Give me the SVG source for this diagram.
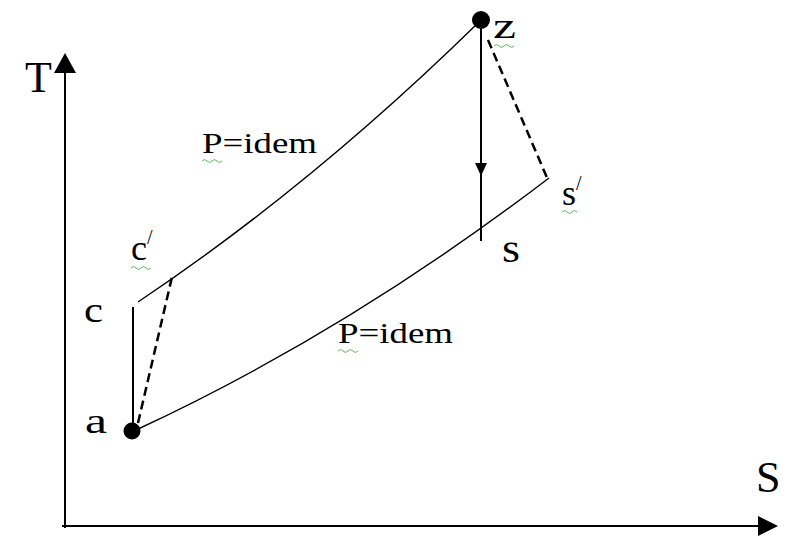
<svg xmlns="http://www.w3.org/2000/svg" width="792" height="540" viewBox="0 0 792 540">
  <style>
    .lbl { font-family: "Liberation Serif", "Times New Roman", serif; fill: #000; }
    .pt { font-size: 36px; }
    .ax { font-size: 44px; }
    .pi { font-size: 30px; }
    .sup { font-size: 20px; }
    .thin { fill: none; stroke: #000; stroke-width: 1.4; }
    .solid { fill: none; stroke: #000; stroke-width: 2; }
    .dash { fill: none; stroke: #000; stroke-width: 2.5; stroke-dasharray: 9 5; }
    .axis { fill: none; stroke: #000; stroke-width: 2; }
    .sq { fill: none; stroke: #5cb85c; stroke-width: 1; }
    .dot { fill: #000; }
  </style>

  <g id="axes">
    <line class="axis" x1="65" y1="528" x2="65" y2="70"/>
    <polygon points="65,53 54,73 76,73" fill="#000"/>
    <line class="axis" x1="62" y1="526" x2="762" y2="526"/>
    <polygon points="778,526 758,516 758,536" fill="#000"/>
    <text class="lbl ax" x="25" y="92">T</text>
    <text class="lbl ax" x="756" y="492">S</text>
  </g>

  <g id="connectors">
    <path class="thin" d="M138,302 Q312,185.5 478,23"/>
    <path class="thin" d="M136,430 Q347.5,332 549,178"/>
    <line class="solid" x1="133" y1="307" x2="133" y2="430"/>
    <line class="dash" x1="138" y1="423" x2="172" y2="277"/>
    <line class="solid" x1="481" y1="22" x2="481" y2="241"/>
    <polygon points="475,163 487,163 481,176" fill="#000"/>
    <line class="dash" x1="488" y1="40" x2="548" y2="180"/>
  </g>

  <g id="node-a">
    <circle class="dot" cx="132" cy="431" r="8.5"/>
    <text class="lbl pt" x="85" y="433" textLength="22" lengthAdjust="spacingAndGlyphs">a</text>
  </g>
  <g id="node-c">
    <text class="lbl pt" x="84" y="322" textLength="19" lengthAdjust="spacingAndGlyphs">c</text>
  </g>
  <g id="node-c-prime">
    <text class="lbl pt" x="131" y="260" font-size="38">c<tspan class="sup" dy="-16">/</tspan></text>
    <path class="sq" d="M131,268 q2.5,-3 5,0 t5,0 t5,0 t5,0"/>
  </g>
  <g id="node-z">
    <circle class="dot" cx="481" cy="20" r="9"/>
    <text class="lbl pt" x="493" y="38" textLength="23" lengthAdjust="spacingAndGlyphs">z</text>
    <path class="sq" d="M494,46 q2.5,-3 5,0 t5,0 t5,0 t5,0"/>
  </g>
  <g id="node-s">
    <text class="lbl" x="502" y="262" font-size="40" textLength="18" lengthAdjust="spacingAndGlyphs">s</text>
  </g>
  <g id="node-s-prime">
    <text class="lbl" x="562" y="205" font-size="36">s<tspan class="sup" dy="-15">/</tspan></text>
    <path class="sq" d="M562,212 q2.5,-3 5,0 t5,0 t5,0"/>
  </g>

  <g id="labels">
    <text class="lbl pi" x="202" y="153" textLength="115" lengthAdjust="spacingAndGlyphs">P=idem</text>
    <path class="sq" d="M202,161 q2.5,-3 5,0 t5,0 t5,0 t5,0"/>
    <text class="lbl pi" x="338" y="343" textLength="115" lengthAdjust="spacingAndGlyphs">P=idem</text>
    <path class="sq" d="M338,351 q2.5,-3 5,0 t5,0 t5,0 t5,0"/>
  </g>
</svg>
